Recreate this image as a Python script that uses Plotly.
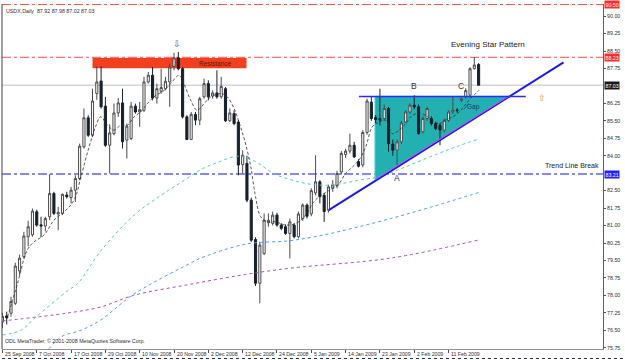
import plotly.graph_objects as go

# ---------------- data ----------------
bar_index = list(range(112))

opens = [76.85,77.12,77.23,77.66,79.05,79.66,80.52,80.60,81.59,81.03,
         80.98,81.38,82.38,81.50,81.52,82.31,82.20,82.52,83.02,84.38,
         85.63,84.88,86.67,87.21,86.13,84.45,84.95,85.84,86.27,84.67,
         84.74,86.13,85.88,85.95,87.17,87.46,86.48,86.77,86.88,87.17,
         87.84,88.21,87.74,85.67,84.70,85.77,85.53,86.53,87.10,86.56,
         86.70,86.53,86.88,85.50,85.81,85.45,83.62,83.67,82.09,80.40,
         78.52,79.80,81.12,81.09,81.45,81.02,80.95,80.66,81.02,80.52,
         81.30,81.88,81.50,82.40,82.88,82.30,81.66,82.60,82.70,83.30,
         84.05,84.20,84.45,83.75,83.60,85.00,86.30,85.64,85.60,85.60,
         86.03,84.50,84.24,84.60,85.45,85.88,86.17,86.10,85.03,85.60,
         85.60,85.38,85.31,85.10,85.52,85.88,85.96,86.38,86.53,86.60,
         87.74,87.92]
highs = [77.25,77.30,77.94,79.40,79.75,80.73,81.20,81.73,81.68,81.38,
         81.38,83.21,82.45,81.80,82.38,82.45,82.66,83.16,84.52,86.03,
         85.74,86.88,87.84,87.84,86.53,85.35,86.24,86.48,86.88,85.38,
         86.31,86.24,86.31,87.39,87.60,87.81,87.10,87.74,87.39,87.96,
         88.42,88.46,87.81,85.74,85.88,85.88,86.53,87.31,87.24,86.81,
         87.67,87.39,86.95,86.03,85.95,85.53,84.24,84.00,82.20,80.50,
         80.30,81.52,81.52,81.60,81.55,81.10,81.05,81.30,81.10,81.60,
         81.95,81.95,82.60,84.02,82.95,82.40,82.75,82.95,83.35,84.20,
         84.30,84.95,84.60,83.85,85.10,86.45,86.53,85.75,86.88,86.20,
         86.10,84.70,84.70,85.50,85.95,86.25,86.60,86.20,85.70,86.10,
         85.70,85.45,85.40,85.60,85.95,86.53,86.05,86.50,86.90,87.80,
         88.24,87.98]
lows = [76.60,76.75,77.08,77.59,78.85,79.59,80.10,80.52,80.95,80.50,
        80.75,81.23,81.45,80.80,81.45,82.16,81.95,82.02,82.95,84.31,
        84.81,84.81,86.40,86.03,84.38,83.24,84.88,85.67,84.31,83.88,
        84.67,85.81,85.24,85.88,87.10,86.38,86.24,86.67,86.81,86.10,
        87.67,87.67,85.60,84.67,84.67,85.31,85.31,86.45,86.38,86.45,
        86.45,86.45,85.45,85.45,85.31,83.16,83.24,82.00,80.30,78.40,
        77.66,79.73,80.95,81.00,80.95,80.80,80.60,79.59,80.45,80.45,
        81.20,81.30,81.40,82.30,81.95,81.16,81.55,82.45,82.60,83.20,
        83.90,84.10,83.90,83.50,83.50,84.90,85.50,85.40,85.30,85.50,
        84.17,84.00,83.60,84.50,85.40,85.80,86.00,84.90,84.95,85.50,
        85.30,85.10,84.45,85.00,85.45,85.80,85.85,86.30,86.45,86.50,
        87.70,87.02]
closes = [77.10,77.03,77.73,79.26,79.60,80.55,80.95,81.62,81.02,80.98,
          81.30,82.38,81.52,81.56,82.34,82.24,82.52,83.02,84.41,85.63,
          84.88,86.35,87.17,86.10,84.45,84.98,85.84,86.27,84.60,85.27,
          86.13,85.88,85.98,87.17,87.46,86.48,86.88,86.93,87.20,87.81,
          88.21,87.74,85.67,84.70,85.78,85.53,86.45,87.10,86.53,86.70,
          86.53,86.98,85.50,85.84,85.38,83.60,84.02,82.09,80.37,78.52,
          80.16,81.23,81.23,81.45,81.02,80.88,80.66,81.16,80.52,81.50,
          81.88,81.40,82.50,82.88,82.24,81.60,82.66,82.75,83.24,84.10,
          84.20,84.45,83.95,83.55,85.00,86.35,85.60,85.55,85.53,86.03,
          84.52,84.24,84.60,85.41,85.88,86.17,86.10,84.95,85.60,86.03,
          85.38,85.17,85.10,85.52,85.88,85.95,85.94,86.45,86.80,87.74,
          87.90,87.03]

# date tick labels (bar index where each label sits)
date_tick_idx = [0, 8, 16, 24, 32, 40, 48, 56, 64, 72, 80, 88, 96, 104]
date_tick_text = ["25 Sep 2008", "7 Oct 2008", "17 Oct 2008", "29 Oct 2008",
                  "10 Nov 2008", "20 Nov 2008", "2 Dec 2008", "12 Dec 2008",
                  "24 Dec 2008", "5 Jan 2009", "14 Jan 2009", "23 Jan 2009",
                  "2 Feb 2009", "11 Feb 2009"]

# visible price scale labels (87.00 and 83.25 sit under the price boxes)
price_ticks = [75.75, 76.50, 77.25, 78.00, 78.75, 79.50, 80.25, 81.00, 81.75,
               82.50, 84.00, 84.75, 85.50, 86.25, 87.75, 88.50,
               89.25, 90.00]

# moving averages
ma_fast_x = [1.2,3.5,5.8,7.4,9.7,12,14.4,16.7,18.3,20.2,21.7,22.9,24.5,26,27.6,29.1,
             30.7,32.2,33.8,35.3,37.7,39.2,41.2,42.3,43.9,45.4,47,48.6,50.9,52.4,54,
             55.5,56.7,57.9,59,60.2,61.8,63.7,66,68.4,70.7,72.3,73.8,75,76.9,78.5,80,
             81.6,83.1,84.7,86.2,87.8,89.3,90.9,92.5,94,95.6,97.1,98.7,100.2,101.8,
             103.3,105.6,107.2,108.7,110.3,111]
ma_fast_y = [77.08,78.5,79.95,80.3,80.59,81.23,81.59,82.09,83.09,84.38,85.24,85.67,
             85.31,85.1,85.31,85.31,85.67,85.88,86.24,86.53,86.81,87.1,87.46,87.1,
             86.38,85.95,86.24,86.53,86.67,86.53,86.03,85.24,84.5,83.52,82.24,81.38,
             81.16,81.16,81.02,81.09,81.45,81.95,82.24,82.38,82.6,82.81,83.24,83.52,
             83.81,84.38,85.24,85.45,85.53,84.95,85.1,85.38,85.74,85.81,85.74,85.53,
             85.38,85.53,85.74,86.03,86.38,86.67,86.8]
ma_teal_x = [0, 4.3, 7.4, 15.2, 17.5, 22.9, 30.7, 37, 42, 46.2, 50, 55, 59, 63, 67,
             71, 75, 79, 83, 88, 93, 101, 106, 111]
ma_teal_y = [76.3, 76.5, 77.0, 78.2, 78.5, 79.9, 81.45, 82.3, 82.9, 83.4, 83.7, 83.98,
             83.75, 83.25, 82.98, 82.8, 82.73, 82.8, 82.95, 83.1, 83.45, 84.05, 84.4,
             84.72]
ma_blue_x = [10, 13.6, 18.3, 22.9, 30.6, 43.9, 46.2, 56.7, 67, 75, 90.5, 100, 111]
ma_blue_y = [75.5, 76.21, 76.5, 76.94, 78.05, 79.39, 79.6, 80.2, 80.35, 80.6, 81.3,
             81.8, 82.42]
ma_purple_x = [0, 15.2, 22.9, 30.6, 43.9, 56.7, 67.2, 90.5, 111]
ma_purple_y = [76.9, 77.24, 77.5, 78.0, 78.48, 78.9, 79.17, 79.6, 80.38]

# levels and drawn objects
level_top = 90.50
level_resist = 88.23
level_bid = 87.03
level_break = 83.21
resist_box = dict(x0=21.0, x1=56.9, y0=87.76, y1=88.20)
trend_line = dict(x0=76.06, y0=81.66, x1=130.8, y1=88.01)
top_line = dict(x0=83.1, x1=122.0, y=86.55)
triangle = dict(x_left=86.85, x_right=118.2, y_top=86.55, y_bottom=82.91)

header_text = "USDX,Daily  87.92 87.98 87.02 87.03"
copyright_text = "ODL MetaTrader, © 2001-2008 MetaQuotes Software Corp."

FONT = "Liberation Sans, Arial, sans-serif"

fig = go.Figure()

fig.add_trace(go.Scatter(x=ma_purple_x, y=ma_purple_y, mode="lines",
                         line=dict(color="#b04cc0", width=1, dash="dot", shape="spline"),
                         hoverinfo="skip", showlegend=False))
fig.add_trace(go.Scatter(x=ma_blue_x, y=ma_blue_y, mode="lines",
                         line=dict(color="#4a9ff0", width=1, dash="dot", shape="spline"),
                         hoverinfo="skip", showlegend=False))
fig.add_trace(go.Scatter(x=ma_teal_x, y=ma_teal_y, mode="lines",
                         line=dict(color="#5cc8bc", width=1, dash="dot", shape="spline"),
                         hoverinfo="skip", showlegend=False))

fig.add_trace(go.Candlestick(
    x=bar_index, open=opens, high=highs, low=lows, close=closes,
    increasing=dict(fillcolor="#ffffff", line=dict(color="#4a4a4a", width=1)),
    decreasing=dict(fillcolor="#17202a", line=dict(color="#17202a", width=1)),
    whiskerwidth=0, hoverinfo="skip", showlegend=False))

fig.add_trace(go.Scatter(x=ma_fast_x, y=ma_fast_y, mode="lines",
                         line=dict(color="#303030", width=0.8, dash="3px,2px", shape="spline"),
                         hoverinfo="skip", showlegend=False))

shapes = []
# resistance box
shapes.append(dict(type="rect", xref="x", yref="y", layer="below",
                   fillcolor="#f2401e", line=dict(width=0), **resist_box))
# triangle
tri = triangle
shapes.append(dict(type="path", xref="x", yref="y", layer="below",
                   path=f"M {tri['x_left']},{tri['y_top']} L {tri['x_right']},{tri['y_top']} "
                        f"L {tri['x_left']},{tri['y_bottom']} Z",
                   fillcolor="#22b0b0", line=dict(color="#40d0e0", width=1)))
# horizontal levels
shapes.append(dict(type="line", xref="paper", yref="y", x0=0, x1=1, y0=level_top, y1=level_top,
                   line=dict(color="#ff5050", width=1, dash="dashdot"), layer="below"))
shapes.append(dict(type="line", xref="paper", yref="y", x0=0, x1=1, y0=level_resist, y1=level_resist,
                   line=dict(color="#ff5050", width=1, dash="dashdot"), layer="below"))
shapes.append(dict(type="line", xref="paper", yref="y", x0=0, x1=1, y0=level_bid, y1=level_bid,
                   line=dict(color="#d4d4de", width=1.5), layer="below"))
shapes.append(dict(type="line", xref="paper", yref="y", x0=0, x1=1, y0=level_break, y1=level_break,
                   line=dict(color="#6060ff", width=1.5, dash="dashdot"), layer="below"))
# trend line, triangle top, hypotenuse
shapes.append(dict(type="line", xref="x", yref="y", line=dict(color="#1a1ae8", width=2), **trend_line))
shapes.append(dict(type="line", xref="x", yref="y", x0=tri["x_left"], y0=tri["y_bottom"] + 0.06,
                   x1=tri["x_right"], y1=tri["y_top"] + 0.03, line=dict(color="#e050e8", width=1)))
shapes.append(dict(type="line", xref="x", yref="y", x0=top_line["x0"], x1=top_line["x1"],
                   y0=top_line["y"], y1=top_line["y"], line=dict(color="#2a2aff", width=1.5)))
# gap pointer
shapes.append(dict(type="line", xref="x", yref="y", x0=107.6, y0=86.0, x1=108.7, y1=86.25,
                   line=dict(color="#3050c0", width=1)))
# chart frame (left edge, bottom border)
shapes.append(dict(type="line", xref="paper", yref="paper", x0=0, x1=0, y0=0, y1=1,
                   line=dict(color="#404040", width=1)))
shapes.append(dict(type="line", xref="paper", yref="paper", x0=-0.01, x1=1.04, y0=-0.0275, y1=-0.0275,
                   line=dict(color="#203040", width=1, dash="dot")))

annotations = []
def txt(x, y, text, size, color="#222222", xanchor="center", yanchor="middle", **kw):
    annotations.append(dict(x=x, y=y, xref=kw.pop("xref", "x"), yref=kw.pop("yref", "y"),
                            text=text, showarrow=False, xanchor=xanchor, yanchor=yanchor,
                            font=dict(family=FONT, size=size, color=color), **kw))

txt(104.0, 88.79, "Evening Star Pattern", 8, xanchor="left")
txt(139.5, 83.57, "Trend Line Break", 7, xanchor="right")
txt(95.9, 86.98, "B", 8.5, color="#333333")
txt(106.8, 86.98, "C", 8.5, color="#333333")
txt(91.9, 83.03, "A", 8.5, color="#333333")
txt(109.9, 86.08, "Gap", 6.5, color="#1d3470")
txt(49.7, 87.96, "Resistance", 6.5, color="#5a140a")
txt(40.7, 88.81, "⇩", 9, color="#606060")
txt(125.7, 86.47, "⇧", 9, color="#e09a40")

# header and copyright
txt(0.004, 0.995, header_text, 5.3, color="#303030", xanchor="left", yanchor="top",
    xref="paper", yref="paper")
txt(0.002, 0.008, copyright_text, 5.3, color="#303030", xanchor="left", yanchor="bottom",
    xref="paper", yref="paper")

# date labels, left-aligned after the tick like MetaTrader
for xi, lab in zip(date_tick_idx, date_tick_text):
    txt(xi, -0.014, lab, 5.2, color="#303030", xanchor="left", yanchor="middle",
        yref="paper", xshift=0.5)

# price boxes on the right axis
for lvl, bg in [(level_top, "#ff2a2a"), (level_resist, "#ff2a2a"),
                (level_bid, "#1a1a1a"), (level_break, "#2020ff")]:
    annotations.append(dict(x=1, xref="paper", y=lvl, yref="y", text=f"{lvl:.2f}",
                            showarrow=False, xanchor="left", yanchor="middle", xshift=1,
                            bgcolor=bg, borderpad=0.5,
                            font=dict(family=FONT, size=5.3, color="#ffffff")))

fig.update_layout(
    width=625, height=360,
    margin=dict(l=2, r=22, t=4, b=11),
    paper_bgcolor="#ffffff", plot_bgcolor="#ffffff",
    showlegend=False,
    shapes=shapes, annotations=annotations,
    xaxis=dict(range=[-0.1, 140.0], showgrid=False, zeroline=False,
               rangeslider=dict(visible=False),
               tickvals=date_tick_idx, ticktext=[""] * len(date_tick_idx),
               showticklabels=False, ticks="outside", ticklen=3, tickcolor="#505050",
               showline=True, linecolor="#909090", linewidth=1),
    yaxis=dict(range=[75.695, 90.52], side="right", showgrid=False, zeroline=False,
               tickvals=price_ticks, ticktext=[f"{v:.2f}" for v in price_ticks],
               tickfont=dict(family=FONT, size=5.3, color="#303030"),
               ticks="outside", ticklen=2, tickcolor="#505050",
               showline=True, linecolor="#606060", linewidth=1),
)

fig.write_html("out.html")
